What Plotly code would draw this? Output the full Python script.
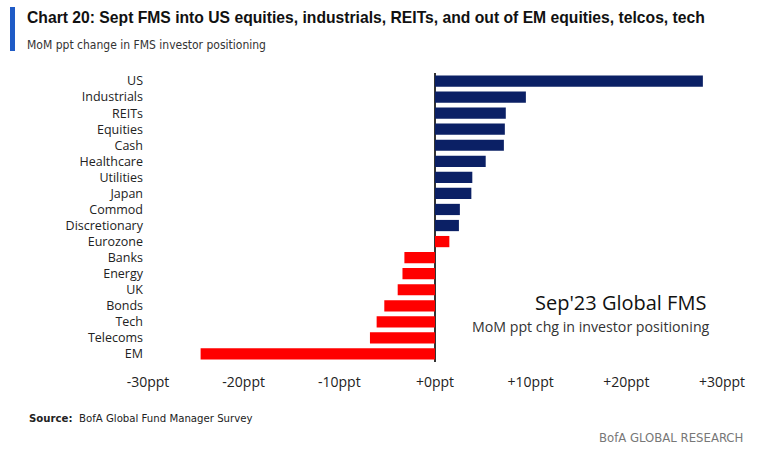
import plotly.graph_objects as go

categories = ["US", "Industrials", "REITs", "Equities", "Cash", "Healthcare", "Utilities",
              "Japan", "Commod", "Discretionary", "Eurozone", "Banks", "Energy", "UK",
              "Bonds", "Tech", "Telecoms", "EM"]
values = [28.0, 9.5, 7.4, 7.3, 7.2, 5.3, 3.9, 3.8, 2.6, 2.5, 1.5, -3.2, -3.4, -3.9,
          -5.3, -6.1, -6.8, -24.5]
bar_colors = ["#0b2065"] * 10 + ["#ff0000"] * 8
tick_vals = [-30, -20, -10, 0, 10, 20, 30]
tick_text = ["-30ppt", "-20ppt", "-10ppt", "+0ppt", "+10ppt", "+20ppt", "+30ppt"]

NARROW = "DejaVu Sans Condensed, Liberation Sans Narrow, Arial, sans-serif"
BODY = "Open Sans, sans-serif"

fig = go.Figure(go.Bar(
    x=values, y=categories, orientation="h",
    marker=dict(color=bar_colors, line=dict(width=0)),
    hoverinfo="x+y",
))

fig.update_layout(
    width=758, height=454,
    margin=dict(l=148, r=36, t=73, b=92),
    paper_bgcolor="white", plot_bgcolor="white",
    bargap=0.3,
    showlegend=False,
    xaxis=dict(range=[-30, 30], tickvals=tick_vals, ticktext=tick_text,
               showgrid=False, zeroline=True, zerolinecolor="#333333", zerolinewidth=1.5,
               showline=False, ticks="", ticklabelstandoff=10,
               tickfont=dict(family=BODY, size=14, color="#222222")),
    yaxis=dict(autorange="reversed", showgrid=False, showline=False, ticks="",
               tickfont=dict(family=BODY, size=12.5, color="#222222"),
               ticklabelstandoff=4),
    shapes=[dict(type="rect", xref="paper", yref="paper",
                 x0=-148/574 + 10/574, x1=-148/574 + 15/574,
                 y0=1 + 22/289, y1=1 + 66/289,
                 fillcolor="#1f5bc6", line=dict(width=0))],
    annotations=[
        dict(text="<b>Chart 20: Sept FMS into US equities, industrials, REITs, and out of EM equities, telcos, tech</b>",
             xref="paper", yref="paper", x=-123/574, y=1 + 55/289, xanchor="left", yanchor="middle",
             showarrow=False, font=dict(family="Liberation Sans, Arial, sans-serif", size=15.7, color="#111111")),
        dict(text="MoM ppt change in FMS investor positioning",
             xref="paper", yref="paper", x=-123/574, y=1 + 28/289, xanchor="left", yanchor="middle",
             showarrow=False, font=dict(family=NARROW, size=12, color="#333333")),
        dict(text="Sep'23 Global FMS",
             xref="paper", yref="paper", x=1 - 14/574, y=(362 - 302)/289, xanchor="right", yanchor="middle",
             showarrow=False, font=dict(family=BODY, size=20, color="#111111")),
        dict(text="MoM ppt chg in investor positioning",
             xref="paper", yref="paper", x=1 - 10/574, y=(362 - 326)/289, xanchor="right", yanchor="middle",
             showarrow=False, font=dict(family=BODY, size=14.2, color="#333333")),
        dict(text="<b>Source:</b>  BofA Global Fund Manager Survey",
             xref="paper", yref="paper", x=-121/574, y=-(418 - 362)/289, xanchor="left", yanchor="middle",
             showarrow=False, font=dict(family=NARROW, size=11.3, color="#222222")),
        dict(text="BofA GLOBAL RESEARCH",
             xref="paper", yref="paper", x=1 + 23/574, y=-(437 - 362)/289, xanchor="right", yanchor="middle",
             showarrow=False, font=dict(family=NARROW, size=13, color="#777777")),
    ],
)

fig.write_html("out.html")
